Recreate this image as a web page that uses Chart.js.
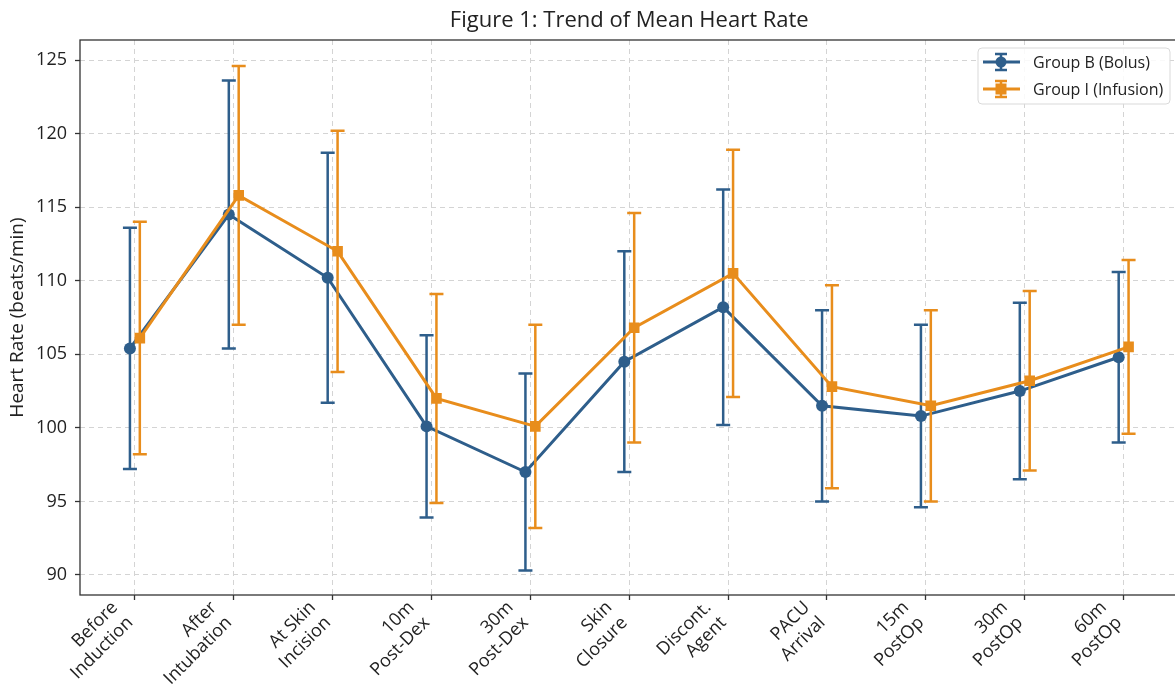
<!DOCTYPE html>
<html>
<head>
<meta charset="utf-8">
<script src="https://cdn.jsdelivr.net/npm/chart.js@4.4.1/dist/chart.umd.min.js"></script>
<style>
  html, body { margin: 0; padding: 0; background: #fff; overflow: hidden; }
  #wrap { width: 1186px; height: 697px; position: relative; }
</style>
</head>
<body>
<div id="wrap"><canvas id="hrChart"></canvas></div>
<script>
// time points (x categories)
const timePoints = [
    "Before\nInduction", "After\nIntubation", "At Skin\nIncision", "10m\nPost-Dex",
    "30m\nPost-Dex", "Skin\nClosure", "Discont.\nAgent", "PACU\nArrival",
    "15m\nPostOp", "30m\nPostOp", "60m\nPostOp"
];

// Group B (Bolus): mean and SD
const bolusMean = [105.4, 114.5, 110.2, 100.1, 97.0, 104.5, 108.2, 101.5, 100.8, 102.5, 104.8];
const bolusSd   = [8.2, 9.1, 8.5, 6.2, 6.7, 7.5, 8.0, 6.5, 6.2, 6.0, 5.8];

// Group I (Infusion): mean and SD
const infusionMean = [106.1, 115.8, 112.0, 102.0, 100.1, 106.8, 110.5, 102.8, 101.5, 103.2, 105.5];
const infusionSd   = [7.9, 8.8, 8.2, 7.1, 6.9, 7.8, 8.4, 6.9, 6.5, 6.1, 5.9];

const yTicks = [90, 95, 100, 105, 110, 115, 120, 125];

const BLUE = '#2e5e8b';
const ORANGE = '#e88d1c';
const FONT = "'Open Sans', sans-serif";
const dodge = 0.05;   // small horizontal shift so the bars don't overlap

const sdByDataset = [bolusSd, infusionSd];

function toPoints(means, shift) {
    return means.map((m, i) => ({ x: i + shift, y: m }));
}

/**
 * Barras de erro (média ± DP), desenhadas antes de cada série
 */
const errorBars = {
    id: 'errorBars',
    beforeDatasetDraw(chart, args) {
        const ds = chart.data.datasets[args.index];
        const sd = sdByDataset[args.index];
        const y = chart.scales.y;
        const ctx = chart.ctx;
        ctx.save();
        ctx.strokeStyle = ds.borderColor;
        ctx.lineWidth = 2.5;
        args.meta.data.forEach((pt, i) => {
            const m = ds.data[i].y;
            const top = y.getPixelForValue(m + sd[i]);
            const bot = y.getPixelForValue(m - sd[i]);
            ctx.beginPath();
            ctx.moveTo(pt.x, top); ctx.lineTo(pt.x, bot);
            ctx.moveTo(pt.x - 7, top); ctx.lineTo(pt.x + 7, top);
            ctx.moveTo(pt.x - 7, bot); ctx.lineTo(pt.x + 7, bot);
            ctx.stroke();
        });
        ctx.restore();
    }
};

/**
 * Moldura do gráfico, título e legenda ao estilo matplotlib
 */
const frameAndLegend = {
    id: 'frameAndLegend',
    afterDraw(chart) {
        const { ctx, chartArea: a } = chart;
        ctx.save();
        ctx.strokeStyle = '#333';
        ctx.lineWidth = 1.3;
        ctx.strokeRect(a.left, a.top, a.right - a.left, a.bottom - a.top);

        // title
        ctx.fillStyle = '#222';
        ctx.font = "22px " + FONT;
        ctx.textAlign = 'center';
        ctx.textBaseline = 'middle';
        ctx.fillText('Figure 1: Trend of Mean Heart Rate', (a.left + a.right) / 2, 21);

        // legend box
        const bx = 978, by = 48, bw = 192, bh = 56;
        ctx.beginPath();
        ctx.roundRect(bx, by, bw, bh, 4);
        ctx.fillStyle = 'rgba(255,255,255,0.85)';
        ctx.fill();
        ctx.strokeStyle = '#d9d9d9';
        ctx.lineWidth = 1;
        ctx.stroke();

        chart.data.datasets.forEach((ds, i) => {
            const cy = 62 + i * 27;
            const cx = 1001;
            ctx.strokeStyle = ds.borderColor;
            ctx.fillStyle = ds.borderColor;
            ctx.lineWidth = 3;
            ctx.beginPath();
            ctx.moveTo(983, cy); ctx.lineTo(1020, cy);
            ctx.stroke();
            ctx.lineWidth = 2.5;
            ctx.beginPath();
            ctx.moveTo(cx, cy - 8); ctx.lineTo(cx, cy + 8);
            ctx.moveTo(cx - 6, cy - 8); ctx.lineTo(cx + 6, cy - 8);
            ctx.moveTo(cx - 6, cy + 8); ctx.lineTo(cx + 6, cy + 8);
            ctx.stroke();
            if (ds.pointStyle === 'rect') {
                ctx.fillRect(cx - 5.5, cy - 5.5, 11, 11);
            } else {
                ctx.beginPath();
                ctx.arc(cx, cy, 5.5, 0, Math.PI * 2);
                ctx.fill();
            }
            ctx.fillStyle = '#222';
            ctx.font = "16px " + FONT;
            ctx.textAlign = 'left';
            ctx.fillText(ds.label, 1033, cy + 1);
        });
        ctx.restore();
    }
};

const ctx = document.getElementById('hrChart').getContext('2d');
new Chart(ctx, {
    type: 'line',
    data: {
        datasets: [
            {
                label: 'Group B (Bolus)',
                data: toPoints(bolusMean, -dodge),
                borderColor: BLUE,
                backgroundColor: BLUE,
                borderWidth: 3,
                pointStyle: 'circle',
                pointRadius: 6,
                pointBorderWidth: 0,
                order: 2
            },
            {
                label: 'Group I (Infusion)',
                data: toPoints(infusionMean, dodge),
                borderColor: ORANGE,
                backgroundColor: ORANGE,
                borderWidth: 3,
                pointStyle: 'rect',
                pointRadius: 7.5,
                pointBorderWidth: 0,
                order: 1
            }
        ]
    },
    options: {
        responsive: true,
        maintainAspectRatio: false,
        animation: false,
        layout: { padding: { top: 40, right: 2, left: 0, bottom: 0 } },
        plugins: {
            legend: { display: false },
            title: { display: false },
            tooltip: { enabled: false }
        },
        scales: {
            x: {
                type: 'linear',
                min: -0.555,
                max: 10.555,
                afterFit: s => { s.height = 102; s.paddingLeft = 0; s.paddingRight = 0; },
                afterBuildTicks: s => { s.ticks = timePoints.map((_, i) => ({ value: i })); },
                grid: { color: '#d4d4d4', lineWidth: 1, tickLength: 5, tickColor: '#333', tickWidth: 1.3, tickBorderDash: [] },
                border: { display: false, dash: [5, 4] },
                ticks: {
                    autoSkip: false,
                    maxRotation: 45,
                    minRotation: 45,
                    padding: -3,
                    labelOffset: -20,
                    color: '#222',
                    font: { family: FONT, size: 18 },
                    callback: v => (Number.isInteger(v) && timePoints[v]) ? timePoints[v].split('\n') : ''
                }
            },
            y: {
                min: 88.64,
                max: 126.36,
                afterFit: s => { s.width = 80; },
                afterBuildTicks: s => { s.ticks = yTicks.map(v => ({ value: v })); },
                grid: { color: '#d4d4d4', lineWidth: 1, tickLength: 5, tickColor: '#333', tickWidth: 1.3, tickBorderDash: [] },
                border: { display: false, dash: [5, 4] },
                title: {
                    display: true,
                    text: 'Heart Rate (beats/min)',
                    color: '#222',
                    font: { family: FONT, size: 19 },
                    padding: { top: 6, bottom: 4 }
                },
                ticks: {
                    padding: 8,
                    color: '#222',
                    font: { family: FONT, size: 18 }
                }
            }
        }
    },
    plugins: [errorBars, frameAndLegend]
});
</script>
</body>
</html>
